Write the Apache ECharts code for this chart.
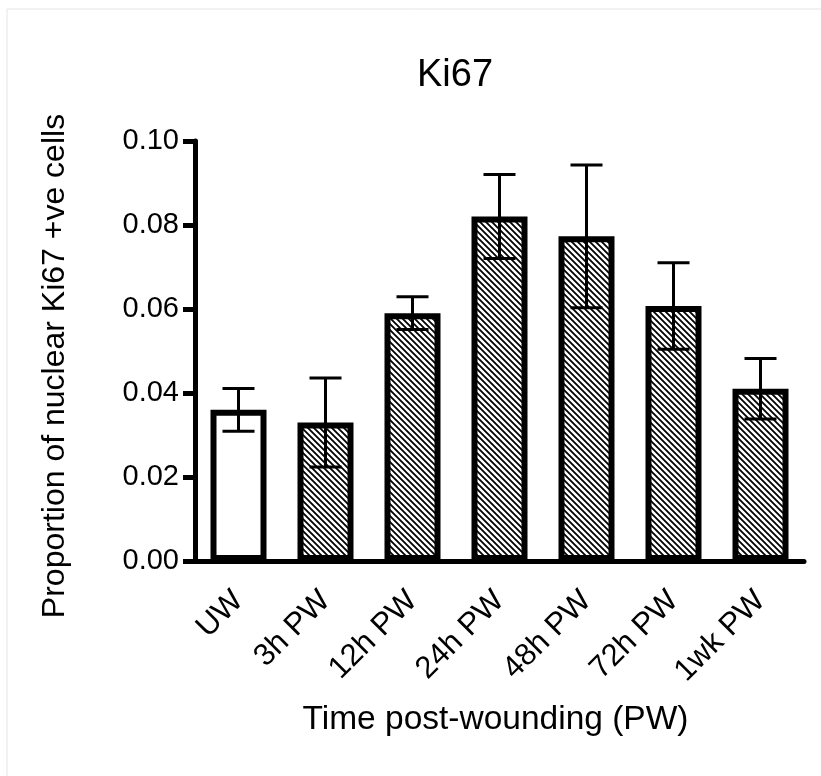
<!DOCTYPE html>
<html>
<head>
<meta charset="utf-8">
<script src="https://cdn.jsdelivr.net/npm/echarts@6/dist/echarts.min.js"></script>
<style>
  html, body { margin: 0; padding: 0; background: #fff; }
  #chart { width: 821px; height: 776px; }
</style>
</head>
<body>
<div id="chart"></div>
<script>
  // values
  const categories = ['UW', '3h PW', '12h PW', '24h PW', '48h PW', '72h PW', '1wk PW']
  const means = [0.036, 0.033, 0.059, 0.082, 0.0773, 0.0607, 0.041]
  const errors = [0.0051, 0.0106, 0.0039, 0.0100, 0.0170, 0.0103, 0.0072]
  const yTicks = [0, 0.02, 0.04, 0.06, 0.08, 0.10]

  const font = 'Liberation Sans, Arial, Helvetica, sans-serif'

  // diagonal hatch tile
  function hatch() {
    let c = document.createElement('canvas')
    c.width = c.height = 6
    let g = c.getContext('2d')
    g.fillStyle = '#fff'
    g.fillRect(0, 0, 6, 6)
    g.strokeStyle = '#000'
    g.lineWidth = 1.8
    g.beginPath()
    g.moveTo(-1, -1); g.lineTo(7, 7)
    g.moveTo(-1, 5); g.lineTo(1, 7)
    g.moveTo(5, -1); g.lineTo(7, 1)
    g.stroke()
    return c
  }
  const pattern = { image: hatch(), repeat: 'repeat' }

  let chart = echarts.init(document.getElementById('chart'))

  let barData = means.map((v, i) => ({
    value: v,
    itemStyle: { color: i === 0 ? '#fff' : pattern }
  }))
  let errData = means.map((v, i) => [i, v, errors[i]])

  let option = {
    animation: false,
    backgroundColor: '#fff',
    textStyle: { fontFamily: font, color: '#000' },
    graphic: [{
      type: 'rect',
      shape: { x: 7, y: 9, width: 840, height: 800 },
      style: { fill: 'none', stroke: '#e4e4e4', lineWidth: 1 },
      silent: true
    }],
    title: {
      text: 'Ki67',
      left: 412,
      top: 52,
      textStyle: { fontFamily: font, fontSize: 38, fontWeight: 'normal', color: '#000' }
    },
    grid: { left: 195, right: 17, top: 141, bottom: 215, containLabel: false },
    xAxis: {
      type: 'category',
      data: categories,
      boundaryGap: true,
      name: 'Time post-wounding (PW)',
      nameLocation: 'middle',
      nameGap: 142,
      nameTextStyle: { fontFamily: font, fontSize: 33.5, color: '#000', padding: [0, 8, 0, 0] },
      axisLine: { lineStyle: { color: '#000', width: 5 } },
      axisTick: { alignWithLabel: true, length: 16, lineStyle: { color: '#000', width: 5 } },
      axisLabel: { rotate: 45, margin: 35, fontSize: 31, fontFamily: font, color: '#000', padding: [0, 0, 0, 0] },
      splitLine: { show: false }
    },
    yAxis: {
      type: 'value',
      min: 0,
      max: 0.1,
      interval: 0.02,
      name: 'Proportion of nuclear Ki67 +ve cells',
      nameLocation: 'middle',
      nameGap: 124,
      nameTextStyle: { fontFamily: font, fontSize: 32, color: '#000', padding: [0, 30, 0, 0] },
      axisLine: { show: true, lineStyle: { color: '#000', width: 5 } },
      axisTick: { show: true, length: 12, lineStyle: { color: '#000', width: 5 } },
      axisLabel: {
        margin: 16, fontSize: 29, fontFamily: font, color: '#000',
        formatter: v => yTicks.indexOf(Math.round(v * 100) / 100) >= 0 ? v.toFixed(2) : ''
      },
      splitLine: { show: false }
    },
    series: [
      {
        type: 'bar',
        data: barData,
        barWidth: 56,
        itemStyle: { borderColor: '#000', borderWidth: 6 },
        z: 2
      },
      {
        type: 'custom',
        data: errData,
        z: 3,
        renderItem(params, api) {
          let x = api.value(0), m = api.value(1), e = api.value(2)
          let top = api.coord([x, m + e])
          let bot = api.coord([x, m - e])
          let hw = 16
          let st = { stroke: '#000', lineWidth: 3 }
          return {
            type: 'group',
            children: [
              { type: 'line', shape: { x1: top[0], y1: top[1], x2: bot[0], y2: bot[1] }, style: st },
              { type: 'line', shape: { x1: top[0] - hw, y1: top[1], x2: top[0] + hw, y2: top[1] }, style: st },
              { type: 'line', shape: { x1: bot[0] - hw, y1: bot[1], x2: bot[0] + hw, y2: bot[1] }, style: st }
            ]
          }
        }
      }
    ]
  }
  chart.setOption(option)
</script>
</body>
</html>
